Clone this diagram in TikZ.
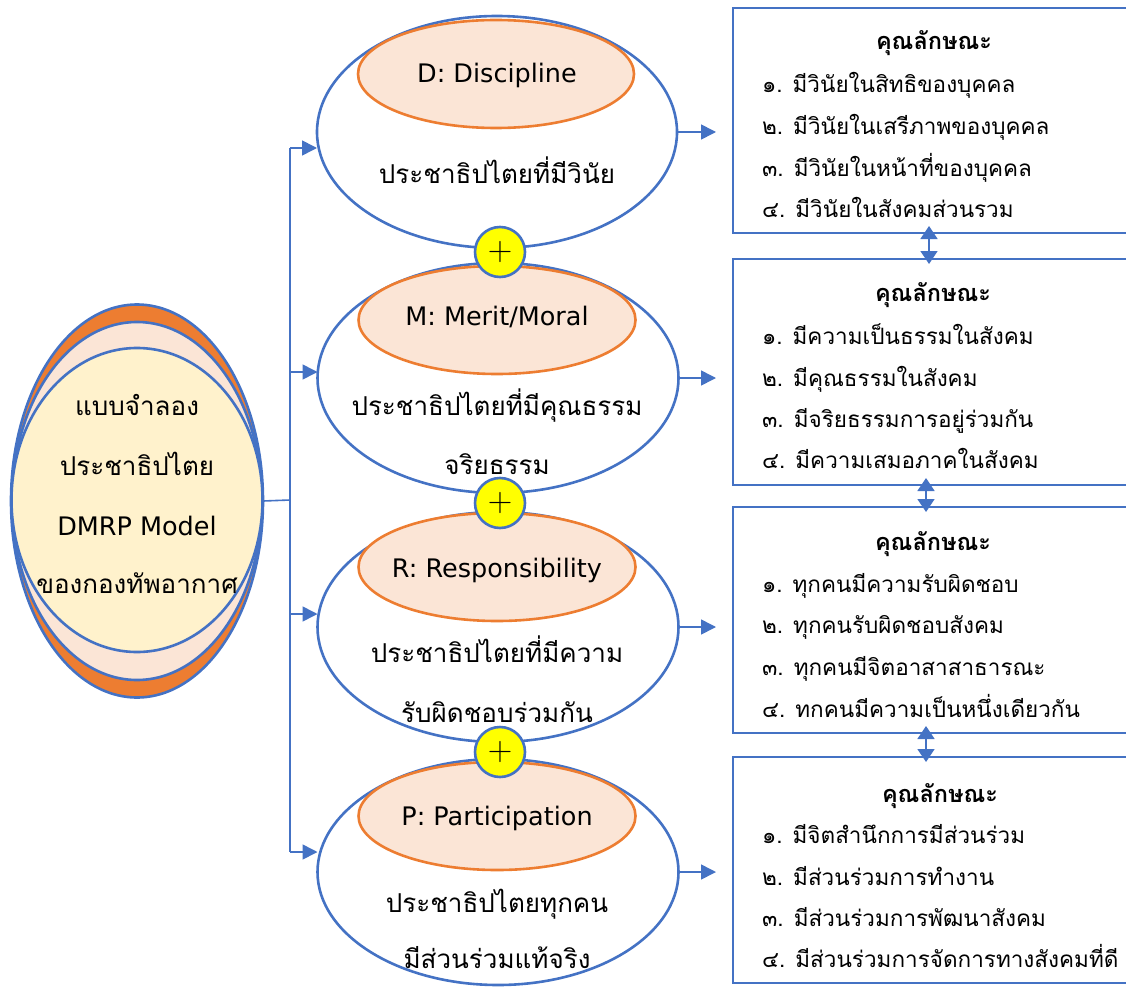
\documentclass[tikz,border=0pt]{standalone}
\usepackage{fontspec}
\newfontfamily\thai[Script=Thai]{Loma}
\newfontfamily\lat{DejaVu Sans}
\usetikzlibrary{arrows.meta,shapes.geometric}
\definecolor{bl}{HTML}{4472C4}
\definecolor{org}{HTML}{ED7D31}
\definecolor{pch}{HTML}{FBE5D6}
\definecolor{crm}{HTML}{FFF2CC}
\definecolor{ylw}{HTML}{FFFF00}
\begin{document}
\begin{tikzpicture}[x=1pt,y=-1pt,
  every node/.style={inner sep=0pt,outer sep=0pt},
  ell/.style={ellipse,draw=bl,line width=2.6pt,fill=white},
  lell/.style={ellipse,draw=bl,line width=2.6pt},
  tag/.style={ellipse,draw=org,line width=2.6pt,fill=pch,minimum width=277,minimum height=108},
  etext/.style={anchor=base,font=\thai\fontsize{26}{30}\selectfont},
  ltext/.style={anchor=base,font=\lat\fontsize{25.5}{30}\selectfont},
  box/.style={rectangle,draw=bl,line width=2.6pt,fill=white,minimum width=400,minimum height=225},
  head/.style={anchor=base,font=\thai\bfseries\fontsize{23.5}{26}\selectfont},
  item/.style={anchor=base west,font=\thai\fontsize{22.5}{26}\selectfont},
  plus/.style={circle,draw=bl,line width=2.6pt,fill=ylw,minimum size=50,font=\fontsize{34}{34}\selectfont},
  conn/.style={draw=bl,line width=1.6pt},
  arr/.style={conn,-{Triangle[length=15pt,width=15pt]}},
  dbl/.style={conn,{Triangle[length=13pt,width=17pt]}-{Triangle[length=13pt,width=17pt]}}
]
\useasboundingbox (0,0) rectangle (1126,987);
% left model ellipse
\node[lell,fill=org,minimum width=252,minimum height=393] (L1) at (137,501) {};
\node[lell,fill=pch,minimum width=250,minimum height=358] (L2) at (137,501) {};
\node[lell,fill=crm,minimum width=251,minimum height=304] (L3) at (137,500) {};
\node[etext] (l1) at (137,415) {แบบจำลอง};
\node[etext] (l2) at (137,475) {ประชาธิปไตย};
\node[ltext] (l3) at (137,535) {DMRP Model};
\node[etext] (l4) at (137,593) {ของกองทัพอากาศ};
% trunk
\coordinate (J) at (290,500);
\coordinate (Jd) at (290,148);
\coordinate (Jm) at (290,372);
\coordinate (Jr) at (290,614);
\coordinate (Jp) at (290,852);
\draw[conn] (L1.east) -- (J);
\draw[conn] (Jd) -- (Jp);
% ellipses
\node[ell,minimum width=360,minimum height=232] (D) at (497,132) {};
\node[ell,minimum width=361,minimum height=230] (M) at (498,378) {};
\node[ell,minimum width=361,minimum height=230] (R) at (498,627) {};
\node[ell,minimum width=361,minimum height=226] (P) at (498,872) {};
\node[tag,minimum width=276] (Dt) at (496,74) {};
\node[tag] (Mt) at (497,320) {};
\node[tag] (Rt) at (497,567) {};
\node[tag] (Pt) at (497,816) {};
\node[ltext] (Dl) at (497,83) {D: Discipline};
\node[ltext] (Ml) at (497,325) {M: Merit/Moral};
\node[ltext] (Rl) at (497,577) {R: Responsibility};
\node[ltext] (Pl) at (497,825) {P: Participation};
\node[etext] (Dd) at (497,183) {ประชาธิปไตยที่มีวินัย};
\node[etext] (Md1) at (497,415) {ประชาธิปไตยที่มีคุณธรรม};
\node[etext] (Md2) at (497,474) {จริยธรรม};
\node[etext] (Rd1) at (497,662) {ประชาธิปไตยที่มีความ};
\node[etext] (Rd2) at (497,722) {รับผิดชอบร่วมกัน};
\node[etext] (Pd1) at (497,912) {ประชาธิปไตยทุกคน};
\node[etext] (Pd2) at (497,968) {มีส่วนร่วมแท้จริง};
% plus circles
\node[plus] (pl1) at (500,252) {+};
\node[plus] (pl2) at (500,503) {+};
\node[plus] (pl3) at (500,752) {+};
% left arrows
\draw[arr] (Jd) -- (D.west |- Jd);
\draw[arr] (Jm) -- (M.west |- Jm);
\draw[arr] (Jr) -- (R.west |- Jr);
\draw[arr] (Jp) -- (P.west |- Jp);
% boxes
\node[box] (B1) at (933,120.5) {};
\node[box,minimum height=226] (B2) at (933,372) {};
\node[box,minimum height=226] (B3) at (933,620) {};
\node[box,minimum height=226] (B4) at (933,870) {};
% right arrows
\coordinate (eD) at (716,132);
\coordinate (eM) at (716,378);
\coordinate (eR) at (716,627);
\coordinate (eP) at (716,872);
\draw[arr] (D.east) -- (eD);
\draw[arr] (M.east) -- (eM);
\draw[arr] (R.east) -- (eR);
\draw[arr] (P.east) -- (eP);
% box texts
\node[head] (h1) at (934,50) {คุณลักษณะ};
\node[item] (a1) at (762,93) {๑. มีวินัยในสิทธิของบุคคล};
\node[item] (a2) at (762,135) {๒. มีวินัยในเสรีภาพของบุคคล};
\node[item] (a3) at (762,176) {๓. มีวินัยในหน้าที่ของบุคคล};
\node[item] (a4) at (762,217) {๔. มีวินัยในสังคมส่วนรวม};
\node[head] (h2) at (933,301) {คุณลักษณะ};
\node[item] (b1) at (762,344) {๑. มีความเป็นธรรมในสังคม};
\node[item] (b2) at (762,386) {๒. มีคุณธรรมในสังคม};
\node[item] (b3) at (762,427) {๓. มีจริยธรรมการอยู่ร่วมกัน};
\node[item] (b4) at (762,468) {๔. มีความเสมอภาคในสังคม};
\node[head] (h3) at (933,550) {คุณลักษณะ};
\node[item] (c1) at (762,592) {๑. ทุกคนมีความรับผิดชอบ};
\node[item] (c2) at (762,633) {๒. ทุกคนรับผิดชอบสังคม};
\node[item] (c3) at (762,675) {๓. ทุกคนมีจิตอาสาสาธารณะ};
\node[item] (c4) at (762,717) {๔. ทกคนมีความเป็นหนึ่งเดียวกัน};
\node[head] (h4) at (940,802) {คุณลักษณะ};
\node[item] (d1) at (762,843) {๑. มีจิตสำนึกการมีส่วนร่วม};
\node[item] (d2) at (762,885) {๒. มีส่วนร่วมการทำงาน};
\node[item] (d3) at (762,926) {๓. มีส่วนร่วมการพัฒนาสังคม};
\node[item] (d4) at (762,967) {๔. มีส่วนร่วมการจัดการทางสังคมที่ดี};
% double arrows between boxes
\draw[dbl] ([xshift=-4pt,yshift=7pt]B1.south) -- ([xshift=-4pt,yshift=-5pt]B2.north);
\draw[dbl] ([xshift=-7pt,yshift=7pt]B2.south) -- ([xshift=-7pt,yshift=-5pt]B3.north);
\draw[dbl] ([xshift=-7pt,yshift=7pt]B3.south) -- ([xshift=-7pt,yshift=-5pt]B4.north);
\end{tikzpicture}
\end{document}
